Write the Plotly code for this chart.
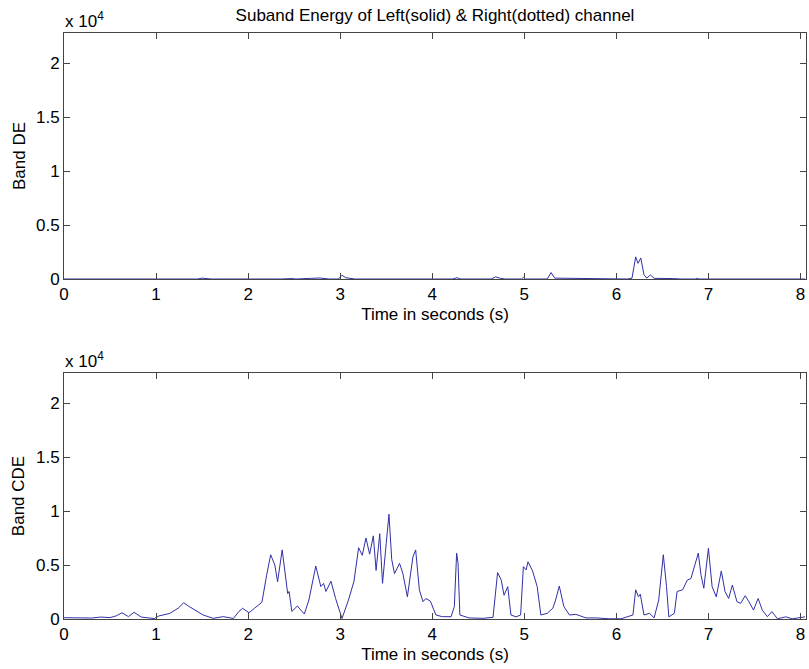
import plotly.graph_objects as go

# Band CDE (bottom panel) - time in seconds, energy
cde_t = [0.00, 0.10, 0.20, 0.30, 0.40, 0.50, 0.57, 0.63, 0.70, 0.76, 0.84, 0.92, 0.98,
         1.03, 1.15, 1.24, 1.30, 1.36, 1.42, 1.51, 1.62, 1.73, 1.84, 1.90, 1.94, 1.98,
         2.01, 2.07, 2.15, 2.20, 2.245, 2.29, 2.32, 2.37, 2.41, 2.43, 2.445, 2.475, 2.535,
         2.61, 2.66, 2.735, 2.79, 2.82, 2.845, 2.90, 2.95, 3.02, 3.09, 3.15, 3.20, 3.24,
         3.28, 3.32, 3.36, 3.39, 3.43, 3.46, 3.50, 3.53, 3.56, 3.59, 3.645, 3.68, 3.73,
         3.79, 3.82, 3.86, 3.90, 3.93, 3.98, 4.04, 4.11, 4.205, 4.24, 4.265, 4.28, 4.30,
         4.40, 4.55, 4.66, 4.71, 4.75, 4.78, 4.82, 4.855, 4.91, 4.96, 4.99, 5.02, 5.04,
         5.09, 5.14, 5.18, 5.25, 5.31, 5.34, 5.38, 5.43, 5.49, 5.56, 5.67, 5.78, 5.92,
         6.05, 6.18, 6.21, 6.24, 6.26, 6.30, 6.36, 6.41, 6.46, 6.51, 6.545, 6.57, 6.63,
         6.66, 6.72, 6.77, 6.81, 6.845, 6.89, 6.92, 6.95, 7.00, 7.04, 7.085, 7.14, 7.18,
         7.22, 7.26, 7.31, 7.35, 7.40, 7.44, 7.49, 7.54, 7.585, 7.64, 7.69, 7.75, 7.84,
         7.91, 7.98, 8.05]
cde_v = [120, 100, 150, 90, 180, 130, 300, 580, 220, 620, 180, 80, 40,
         280, 520, 1000, 1500, 1150, 850, 380, 60, 220, 50, 700, 990, 800,
         580, 1000, 1550, 4000, 5950, 5000, 3450, 6400, 3800, 2350, 2550, 700, 1200,
         460, 1750, 4900, 3000, 3300, 2550, 3500, 1900, 50, 1750, 3500, 6600, 5900,
         7500, 6000, 7700, 4500, 7900, 3300, 7000, 9700, 5500, 4200, 5150, 4250, 2050,
         5750, 6400, 2700, 1600, 1900, 1650, 370, 215, 215, 1150, 6100, 5200, 370,
         100, 60, 150, 4300, 3600, 2200, 3000, 370, 200, 370, 4850, 4550, 5300,
         4450, 3000, 370, 530, 1000, 1750, 3050, 1150, 370, 430, 100, 100, 20,
         20, 370, 2700, 2050, 2300, 370, 530, 100, 1750, 5950, 3000, 200, 530,
         2550, 2700, 3600, 3750, 4850, 6100, 4050, 2850, 6550, 3000, 2050, 4450, 2550,
         1900, 3150, 1600, 1450, 2150, 1600, 830, 1900, 830, 215, 680, 20, 200,
         20, 100, 200]

# Band DE (top panel)
de_t = [0.00, 0.55, 0.57, 0.60, 1.45, 1.50, 1.56, 1.60, 2.35, 2.40, 2.48, 2.52, 2.62,
        2.68, 2.78, 2.84, 2.88, 2.98, 3.02, 3.06, 3.12, 3.16, 4.22, 4.27, 4.31, 4.64,
        4.69, 4.74, 4.79, 4.97, 4.99, 5.01, 5.25, 5.29, 5.33, 5.55, 5.60, 5.72, 5.76,
        5.84, 5.88, 6.12, 6.17, 6.21, 6.235, 6.265, 6.30, 6.33, 6.37, 6.41, 6.62, 6.70,
        6.86, 6.88, 6.90, 8.05]
de_v = [0, 0, 60, 0, 0, 80, 60, 0, 0, 40, 40, 0, 0,
        60, 90, 40, 0, 0, 350, 120, 60, 0, 0, 120, 0, 0,
        200, 60, 0, 0, 150, 0, 0, 600, 80, 60, 0, 0, 40,
        40, 0, 0, 80, 2050, 1450, 1950, 400, 80, 380, 60, 40, 0,
        0, 60, 0, 0]

x_ticks = [0, 1, 2, 3, 4, 5, 6, 7, 8]
y_tickvals = [0, 5000, 10000, 15000, 20000]
y_ticktext = ["0", "0.5", "1", "1.5", "2"]

FONT = "Liberation Sans, Arial, sans-serif"
LINE = "#3030a8"
AX = "#444444"

fig = go.Figure()
fig.add_trace(go.Scatter(x=de_t, y=de_v, mode="lines", line=dict(color=LINE, width=1),
                         xaxis="x", yaxis="y", showlegend=False))
fig.add_trace(go.Scatter(x=cde_t, y=cde_v, mode="lines", line=dict(color=LINE, width=1),
                         xaxis="x2", yaxis="y2", showlegend=False))

def xax(anchor):
    return dict(range=[0, 8.06], tickvals=x_ticks, ticks="inside", ticklen=6,
                tickcolor=AX, showline=True, linecolor=AX, linewidth=1, mirror="ticks",
                showgrid=False, zeroline=False, anchor=anchor,
                tickfont=dict(size=17, color="black", family=FONT),
                title=dict(text="Time in seconds (s)", font=dict(size=17, color="black", family=FONT),
                           standoff=4))

def yax(anchor, domain, label):
    return dict(range=[0, 22780], tickvals=y_tickvals, ticktext=y_ticktext, ticks="inside",
                ticklen=6, tickcolor=AX, showline=True, linecolor=AX, linewidth=1,
                mirror="ticks", showgrid=False, zeroline=False, anchor=anchor, domain=domain,
                tickfont=dict(size=17, color="black", family=FONT),
                title=dict(text=label, font=dict(size=17, color="black", family=FONT),
                           standoff=6))

fig.update_layout(
    width=809, height=669,
    margin=dict(l=64, r=3, t=33, b=50),
    paper_bgcolor="white", plot_bgcolor="white",
    font=dict(family=FONT, size=17, color="black"),
    title=dict(text="Suband Energy of Left(solid) & Right(dotted) channel",
               x=0.5, xref="paper", xanchor="center", y=1 - 15 / 669, yanchor="middle",
               font=dict(size=17, color="black", family=FONT)),
    xaxis=xax("y"), yaxis=yax("x", [0.5802, 1.0], "Band DE"),
    xaxis2=xax("y2"), yaxis2=yax("x2", [0.0, 0.4198], "Band CDE"),
    annotations=[
        dict(text="x 10<sup>4</sup>", xref="paper", yref="paper", x=-0.002, y=(619 - 20) / 586,
             xanchor="left", yanchor="middle", showarrow=False, font=dict(size=17, family=FONT)),
        dict(text="x 10<sup>4</sup>", xref="paper", yref="paper", x=-0.002, y=(619 - 360) / 586,
             xanchor="left", yanchor="middle", showarrow=False, font=dict(size=17, family=FONT)),
    ],
)

fig.write_html("out.html")
